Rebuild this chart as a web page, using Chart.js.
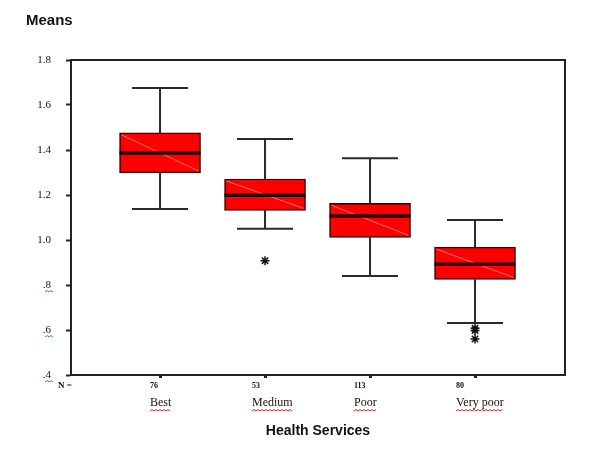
<!DOCTYPE html>
<html>
<head>
<meta charset="utf-8">
<script src="https://cdn.jsdelivr.net/npm/chart.js@4"></script>
<style>
  html, body { margin: 0; padding: 0; background: #fff; }
  #wrap { width: 600px; height: 450px; }
</style>
</head>
<body>
<div id="wrap"><canvas id="myChart"></canvas></div>
<script>
// box plot data
const categories = ['Best', 'Medium', 'Poor', 'Very poor'];
const counts = [76, 53, 113, 80];
const whiskerLow = [1.138, 1.050, 0.840, 0.631];
const q1 = [1.298, 1.132, 1.012, 0.825];
const median = [1.387, 1.199, 1.107, 0.892];
const q3 = [1.476, 1.271, 1.163, 0.968];
const whiskerHigh = [1.676, 1.449, 1.363, 1.089];
const outlierCat = [2, 4, 4, 4];
const outlierVal = [0.908, 0.608, 0.598, 0.560];
const yTicks = [0.4, 0.6, 0.8, 1.0, 1.2, 1.4, 1.6, 1.8];

const ctx = document.getElementById('myChart');
const serif = '"Liberation Serif", "Times New Roman", serif';
const sans = '"Liberation Sans", Arial, sans-serif';

function fmtTick(v) {
  let s = v.toFixed(1);
  if (s.startsWith('0')) s = s.slice(1);
  return s;
}

function squiggle(c, x0, x1, y, color) {
  c.save();
  c.strokeStyle = color;
  c.lineWidth = 1;
  c.beginPath();
  let up = true;
  c.moveTo(x0, y);
  for (let x = x0 + 2; x <= x1; x += 2) {
    c.lineTo(x, up ? y - 1.5 : y);
    up = !up;
  }
  c.stroke();
  c.restore();
}

const boxPlugin = {
  id: 'boxExtras',
  beforeDatasetsDraw(chart) {
    const c = chart.ctx;
    const xs = chart.scales.x, ys = chart.scales.y;
    c.save();
    c.strokeStyle = '#2a2a2a';
    c.lineWidth = 2;
    for (let i = 0; i < categories.length; i++) {
      const x = xs.getPixelForValue(i + 1);
      const half = 28;
      const yl = ys.getPixelForValue(whiskerLow[i]);
      const yh = ys.getPixelForValue(whiskerHigh[i]);
      c.beginPath();
      c.moveTo(x, ys.getPixelForValue(q3[i])); c.lineTo(x, yh);
      c.moveTo(x - half, yh); c.lineTo(x + half, yh);
      c.moveTo(x, ys.getPixelForValue(q1[i])); c.lineTo(x, yl);
      c.moveTo(x - half, yl); c.lineTo(x + half, yl);
      c.stroke();
    }
    c.restore();
  },
  afterDatasetsDraw(chart) {
    const c = chart.ctx;
    const xs = chart.scales.x, ys = chart.scales.y;
    const bars = chart.getDatasetMeta(0).data;
    c.save();
    for (let i = 0; i < categories.length; i++) {
      const b = bars[i];
      const left = b.x - b.width / 2, right = b.x + b.width / 2;
      const top = ys.getPixelForValue(q3[i]);
      const bot = ys.getPixelForValue(q1[i]);
      // faint diagonal sheen
      c.strokeStyle = 'rgba(255,140,140,0.8)';
      c.lineWidth = 1;
      c.beginPath();
      c.moveTo(left + 2, top + 2); c.lineTo(right - 2, bot - 2);
      c.stroke();
      // median
      const ym = ys.getPixelForValue(median[i]);
      c.strokeStyle = '#220000';
      c.lineWidth = 3.5;
      c.beginPath();
      c.moveTo(left, ym); c.lineTo(right, ym);
      c.stroke();
    }
    // plot frame
    const a = chart.chartArea;
    c.strokeStyle = '#222';
    c.lineWidth = 2;
    c.strokeRect(a.left, a.top, a.right - a.left, a.bottom - a.top);

    // N = and counts, category names
    c.fillStyle = '#111';
    c.textBaseline = 'middle';
    c.textAlign = 'left';
    c.font = 'bold 9px ' + serif;
    c.fillText('N =', 58, 386);
    for (let i = 0; i < categories.length; i++) {
      const x = xs.getPixelForValue(i + 1) - 10 - i * 3;
      c.font = 'bold 8px ' + serif;
      c.fillText(String(counts[i]), x, 386);
      c.font = '12px ' + serif;
      c.fillText(categories[i], x, 403);
      const w = c.measureText(categories[i]).width;
      squiggle(c, x, x + w, 411, '#d02020');
    }
    // green squiggles under the decimal-only y labels
    yTicks.forEach(v => {
      if (v < 1) {
        const y = ys.getPixelForValue(v);
        squiggle(c, 45, 54, y + 7, '#3a9a3a');
      }
    });
    c.restore();
  }
};

new Chart(ctx, {
  data: {
    datasets: [{
      type: 'bar',
      label: 'Box',
      data: categories.map((n, i) => ({ x: i + 1, y: [q1[i], q3[i]] })),
      backgroundColor: '#ff0000',
      borderColor: '#3a0000',
      borderWidth: 1.5,
      borderSkipped: false,
      barThickness: 81
    }, {
      type: 'scatter',
      label: 'Outliers',
      data: outlierCat.map((c, i) => ({ x: c, y: outlierVal[i] })),
      pointStyle: 'star',
      radius: 4.5,
      borderColor: '#111',
      borderWidth: 1.5,
      backgroundColor: '#111'
    }]
  },
  plugins: [boxPlugin],
  options: {
    responsive: true,
    maintainAspectRatio: false,
    animation: false,
    layout: { padding: { left: 26, right: 35, top: 0, bottom: 0 } },
    plugins: {
      legend: { display: false },
      tooltip: { enabled: false },
      title: {
        display: true,
        text: 'Means',
        align: 'start',
        color: '#111',
        font: { family: sans, size: 15, weight: 'bold' },
        padding: { top: 12, bottom: 30 }
      }
    },
    scales: {
      x: {
        type: 'linear',
        offset: false,
        min: 0.152,
        max: 4.857,
        afterBuildTicks: s => { s.ticks = categories.map((n, i) => ({ value: i + 1 })); },
        afterFit: s => { s.height = 75; },
        ticks: { display: false },
        grid: { offset: false, drawOnChartArea: false, tickLength: 3, tickWidth: 3, tickColor: '#222' },
        border: { display: true, color: '#222', width: 2 },
        title: {
          display: true,
          text: 'Health Services',
          color: '#111',
          font: { family: sans, size: 14, weight: 'bold' },
          padding: { top: 0, bottom: 10 }
        }
      },
      y: {
        min: 0.4,
        max: 1.8,
        afterBuildTicks: s => { s.ticks = yTicks.map(v => ({ value: v })); },
        afterFit: s => { s.width = 45; },
        ticks: {
          callback: v => fmtTick(v),
          color: '#111',
          padding: 15,
          font: { family: serif, size: 11 }
        },
        grid: { drawOnChartArea: false, tickLength: 5, tickWidth: 2, tickColor: '#222' },
        border: { display: true, color: '#222', width: 2 }
      }
    }
  }
});
</script>
</body>
</html>
